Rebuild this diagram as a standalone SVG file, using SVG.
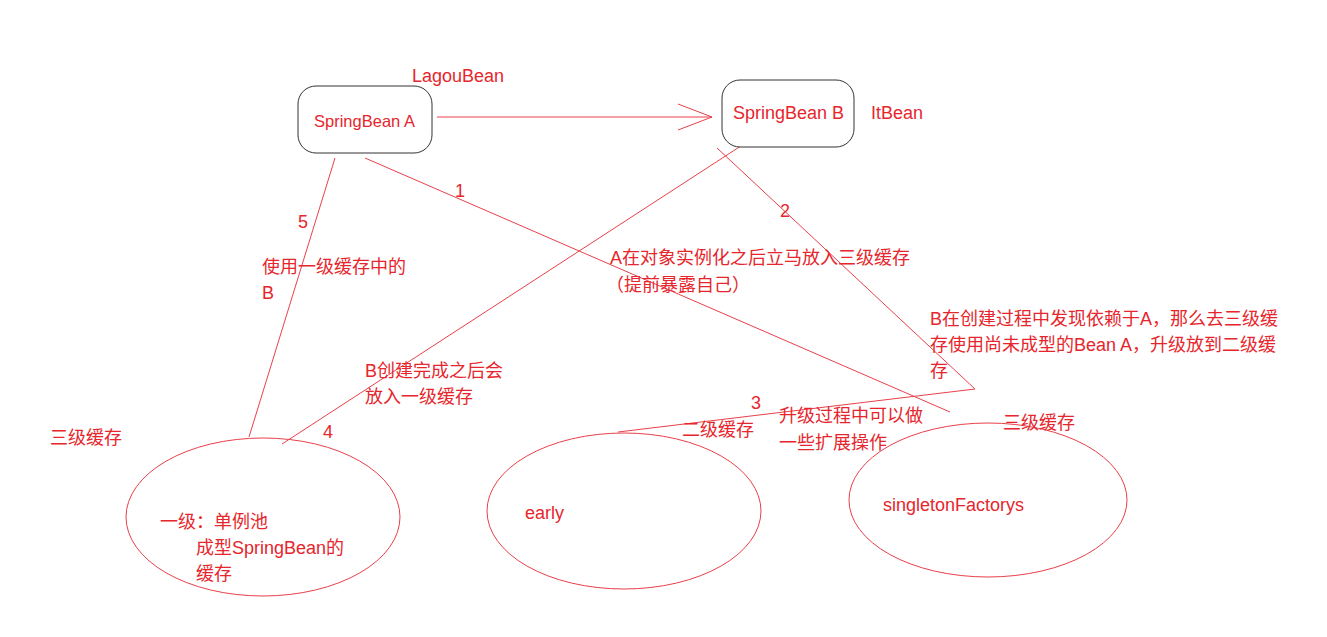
<svg xmlns="http://www.w3.org/2000/svg" width="1327" height="637" viewBox="0 0 1327 637">
<defs>
<style>
text{font-family:"Liberation Sans","Noto Sans CJK SC",sans-serif;font-size:18px;fill:#e6262c}
.ln{stroke:#e8404a;stroke-width:1;fill:none}
.box{fill:#fff;stroke:#333;stroke-width:1}
.pool{fill:none;stroke:#e8404a;stroke-width:1}
</style>
<marker id="open" markerWidth="40" markerHeight="34" refX="36" refY="17" orient="auto" markerUnits="userSpaceOnUse">
<path d="M2,4 L36,17 L2,30" fill="none" stroke="#e8404a" stroke-width="1"/>
</marker>
</defs>
<rect width="1327" height="637" fill="#fff"/>
<g id="connectors">
<line class="ln" x1="437" y1="117" x2="712" y2="117" marker-end="url(#open)"/>
<line class="ln" x1="335" y1="158" x2="249" y2="437"/>
<line class="ln" x1="365" y1="158" x2="950" y2="412"/>
<polyline class="ln" points="717,148 975,389 618,432"/>
<line class="ln" x1="747" y1="142" x2="282" y2="444"/>
<text x="455" y="197">1</text>
<text x="780" y="217">2</text>
<text x="751" y="409">3</text>
<text x="323" y="438">4</text>
<text x="298" y="228">5</text>
</g>
<g id="nodeA">
<rect class="box" x="298" y="86" width="134" height="67" rx="18"/>
<text x="314" y="127" style="font-size:16.5px">SpringBean A</text>
<text x="412" y="82">LagouBean</text>
</g>
<g id="nodeB">
<rect class="box" x="722" y="80" width="132" height="67" rx="18"/>
<text x="733" y="119">SpringBean B</text>
<text x="871" y="119">ItBean</text>
</g>
<g id="pool1">
<ellipse class="pool" cx="263" cy="517" rx="137" ry="79"/>
<text x="160" y="528">一级：单例池</text>
<text x="196" y="554">成型SpringBean的</text>
<text x="196" y="580">缓存</text>
</g>
<g id="pool2">
<ellipse class="pool" cx="624" cy="511" rx="137" ry="78"/>
<text x="525" y="519">early</text>
<text x="682" y="436">二级缓存</text>
</g>
<g id="pool3">
<ellipse class="pool" cx="988" cy="500" rx="139" ry="77"/>
<text x="883" y="511">singletonFactorys</text>
<text x="1003" y="429">三级缓存</text>
</g>
<g id="notes">
<text x="50" y="444">三级缓存</text>
<text x="262" y="273">使用一级缓存中的</text>
<text x="262" y="299">B</text>
<text x="610" y="264">A在对象实例化之后立马放入三级缓存</text>
<text x="606" y="291">（提前暴露自己）</text>
<text x="930" y="325">B在创建过程中发现依赖于A，那么去三级缓</text>
<text x="930" y="351">存使用尚未成型的Bean A，升级放到二级缓</text>
<text x="930" y="377">存</text>
<text x="365" y="377">B创建完成之后会</text>
<text x="365" y="403">放入一级缓存</text>
<text x="779" y="422">升级过程中可以做</text>
<text x="779" y="449">一些扩展操作</text>
</g>
</svg>
